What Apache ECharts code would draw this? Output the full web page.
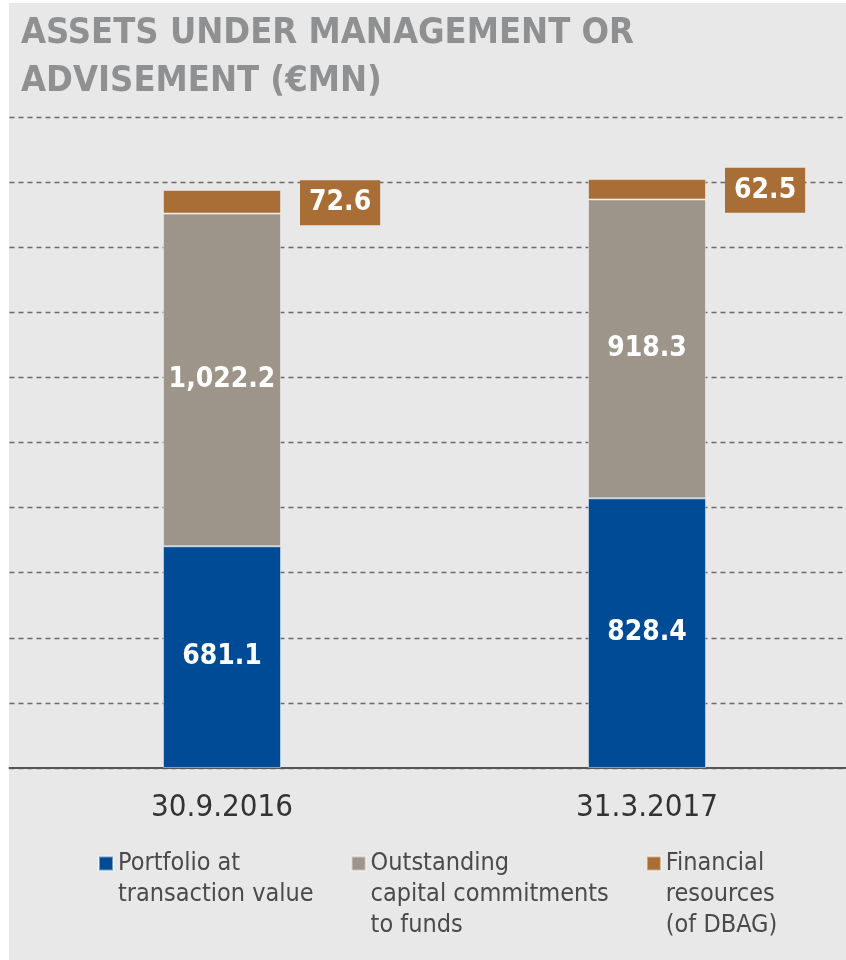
<!DOCTYPE html>
<html>
<head>
<meta charset="utf-8">
<script src="https://cdn.jsdelivr.net/npm/echarts@6/dist/echarts.min.js"></script>
<style>
html, body { margin: 0; padding: 0; background: #fff; }
#chart { width: 846px; height: 960px; }
</style>
</head>
<body>
<div id="chart"></div>
<script>
// data
const categories = ['30.9.2016', '31.3.2017'];
const seriesNames = ['Portfolio at\ntransaction value', 'Outstanding\ncapital commitments\nto funds', 'Financial\nresources\n(of DBAG)'];
const colors = ['#004B96', '#9E958A', '#A86E35'];
const portfolio = [681.1, 828.4];
const commitments = [1022.2, 918.3];
const resources = [72.6, 62.5];

const fontMain = '"Liberation Sans Narrow", "DejaVu Sans Condensed", sans-serif';
const fmt = (v) => v.toLocaleString('en-US', { minimumFractionDigits: 1, maximumFractionDigits: 1 });

// legend text: pad with blank lines so the first line sits level with the square
const legendText = (name) => {
	const lines = name.split('\n');
	const after = Math.max(0, 3 - lines.length);
	return ['', ''].concat(lines, new Array(after).fill('')).join('\n');
};

const chart = echarts.init(document.getElementById('chart'));

const makeSeries = (i, values, label) => ({
	name: seriesNames[i],
	type: 'bar',
	stack: 'aum',
	barWidth: 118,
	data: values,
	itemStyle: { color: colors[i], borderColor: 'rgba(255,255,255,0.45)', borderWidth: 1 },
	label: label,
});

const innerLabel = {
	show: true,
	position: 'inside',
	color: '#fff',
	fontSize: 28,
	fontWeight: 'bold',
	fontFamily: fontMain,
	formatter: (p) => fmt(p.value),
};

const option = {
	backgroundColor: '#fff',
	animation: false,
	graphic: [
		{ type: 'rect', z: -10, shape: { x: 9, y: 3, width: 840, height: 960 }, style: { fill: '#E8E8E8' } },
	],
	title: {
		text: 'ASSETS UNDER MANAGEMENT OR\nADVISEMENT (€MN)',
		left: 16,
		top: 5,
		textStyle: { color: '#8E9092', fontSize: 36, fontWeight: 'bold', lineHeight: 48, fontFamily: fontMain },
	},
	legend: {
		left: 98,
		top: 786,
		padding: 0,
		itemWidth: 14,
		itemHeight: 14,
		itemGap: 37,
		icon: 'rect',
		data: seriesNames,
		formatter: legendText,
		textStyle: { color: '#4A4A4A', fontSize: 25, lineHeight: 31, fontFamily: fontMain },
	},
	grid: { left: 9.5, top: 117, width: 850, bottom: 192, containLabel: false, outerBoundsMode: 'none' },
	xAxis: {
		type: 'category',
		data: categories,
		axisLine: { lineStyle: { color: '#555', width: 2 } },
		axisTick: { show: false },
		axisLabel: { color: '#333', fontSize: 31, margin: 24, fontFamily: fontMain },
	},
	yAxis: {
		type: 'value',
		min: 0,
		max: 2000,
		interval: 200,
		axisLabel: { show: false },
		axisLine: { show: false },
		axisTick: { show: false },
		splitLine: { lineStyle: { color: '#6A6A6A', type: [5, 4], width: 1.3 } },
	},
	series: [
		makeSeries(0, portfolio, innerLabel),
		makeSeries(1, commitments, innerLabel),
		makeSeries(2, resources, {
			show: true,
			position: 'right',
			distance: 19,
			offset: [0, 1],
			color: '#fff',
			fontSize: 28,
			fontWeight: 'bold',
			fontFamily: fontMain,
			backgroundColor: colors[2],
			padding: [9, 9, 8, 9],
			formatter: (p) => fmt(p.value),
		}),
	],
};

chart.setOption(option);
</script>
</body>
</html>
